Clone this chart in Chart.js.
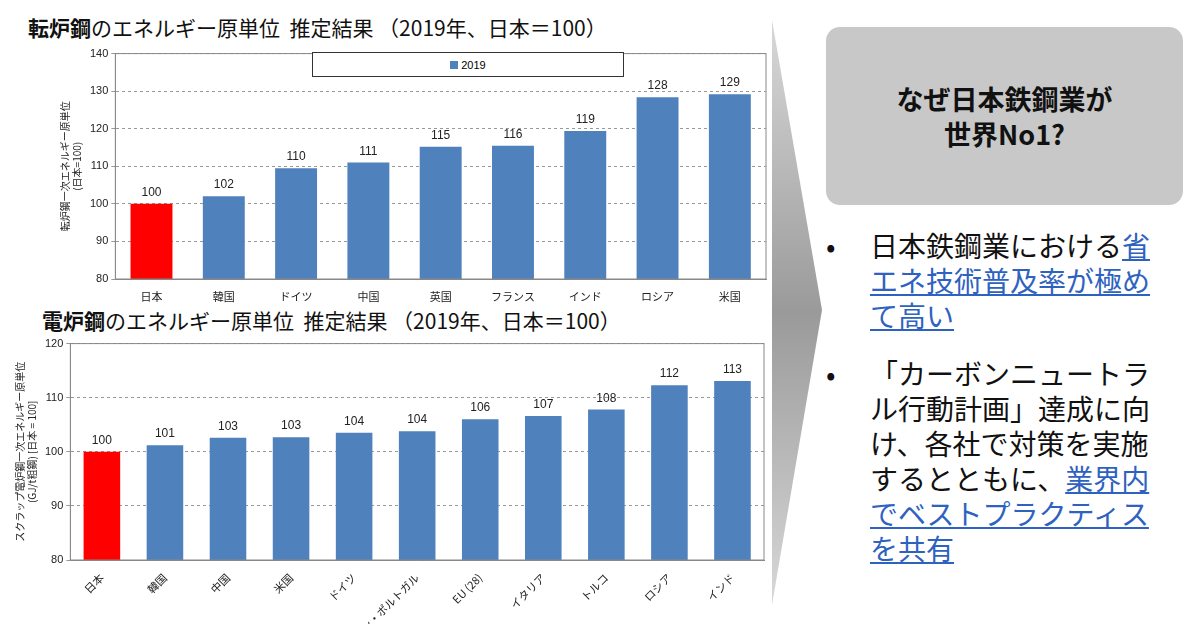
<!DOCTYPE html>
<html><head><meta charset="utf-8">
<script src="https://cdn.jsdelivr.net/npm/chart.js@4"></script>
<style>
body{margin:0;width:1200px;height:624px;background:#fff;font-family:"Noto Sans CJK JP","Noto Sans",sans-serif;position:relative;overflow:hidden}
.title{position:absolute;font-size:21px;color:#111;white-space:nowrap}
.title b{font-weight:700}
.wrap{position:absolute}
.legend{position:absolute;left:312px;top:52px;width:310px;height:23px;border:1px solid #333;background:#fff;font:11px "Liberation Sans";display:flex;align-items:center;justify-content:center}
.legend i{display:inline-block;width:8px;height:8px;background:#4f81bd;margin-right:3px}
.box{position:absolute;left:826px;top:27px;width:357px;height:178px;background:#c8c8c8;border-radius:14px;display:flex;align-items:center;justify-content:center;text-align:center;font-size:27px;font-weight:700;line-height:1.3;color:#111}
.bul{position:absolute;left:826px;width:340px;font-size:28px;line-height:35px;color:#111}
.bul span.d{position:absolute;left:0}
.bul div{margin-left:44px;width:300px}
.bul a{color:#2e62c0;text-decoration:underline}
</style></head><body>
<div class="title" style="left:28px;top:12px"><b>転炉鋼</b>のエネルギー原単位&nbsp; 推定結果 （2019年、日本＝100）</div>
<div class="title" style="left:42px;top:305px"><b>電炉鋼</b>のエネルギー原単位&nbsp; 推定結果 （2019年、日本＝100）</div>
<div class="wrap" style="left:10px;top:44px;width:762px;height:262px"><canvas id="c1"></canvas></div>
<div class="wrap" style="left:10px;top:334px;width:760px;height:290px"><canvas id="c2"></canvas></div>
<div class="legend"><i></i>2019</div>
<svg style="position:absolute;left:772px;top:20px" width="56" height="590">
<defs><linearGradient id="g" x1="0" y1="0" x2="0" y2="1"><stop offset="0" stop-color="#d8d8d8"/><stop offset="0.5" stop-color="#9a9a9a"/><stop offset="1" stop-color="#d8d8d8"/></linearGradient></defs>
<polygon points="0,0 50,290 0,585" fill="url(#g)"/></svg>
<div class="box">なぜ日本鉄鋼業が<br>世界No1?</div>
<div class="bul" style="top:228px"><span class="d">•</span><div>日本鉄鋼業における<a>省エネ技術普及率が極めて高い</a></div></div>
<div class="bul" style="top:356px"><span class="d">•</span><div>「カーボンニュートラル行動計画」達成に向け、各社で対策を実施するとともに、<a>業界内でベストプラクティスを共有</a></div></div>
<script>
const topCategories = ["日本","韓国","ドイツ","中国","英国","フランス","インド","ロシア","米国"];
const topValues = [100,102,109.5,111,115.2,115.5,119.4,128.4,129.2];
const bottomCategories = ["日本","韓国","中国","米国","ドイツ","スペイン・ポルトガル","EU (28)","イタリア","トルコ","ロシア","インド"];
const bottomValues = [100,101.2,102.6,102.7,103.5,103.8,106,106.6,107.8,112.3,113.1];

const valueLabels = {
  id: "valueLabels",
  afterDatasetsDraw(chart) {
    const ctx = chart.ctx;
    const meta = chart.getDatasetMeta(0);
    ctx.save();
    ctx.font = "12px 'Liberation Sans'";
    ctx.fillStyle = "#222";
    ctx.textAlign = "center";
    meta.data.forEach((bar, i) => {
      ctx.fillText(Math.round(chart.data.datasets[0].data[i]), bar.x, bar.y - 8);
    });
    ctx.restore();
  }
};
const frame = {
  id: "frame",
  afterDraw(chart) {
    const a = chart.chartArea, ctx = chart.ctx;
    ctx.save(); ctx.strokeStyle = "#888"; ctx.lineWidth = 1;
    ctx.strokeRect(a.left, a.top, a.right - a.left, a.bottom - a.top);
    ctx.restore();
  }
};

function makeChart(id, labels, data, min, max, yTitle, rotate, leftPad, xHeight) {
  new Chart(document.getElementById(id), {
    type: "bar",
    data: { labels, datasets: [{ data, backgroundColor: data.map((v, i) => i === 0 ? "#ff0000" : "#4f81bd"), barPercentage: 0.58, categoryPercentage: 1 }] },
    options: {
      responsive: true, maintainAspectRatio: false, animation: false,
      layout: { padding: { top: 6, right: 6, left: leftPad } },
      plugins: { legend: { display: false }, tooltip: { enabled: false } },
      scales: {
        x: { grid: { display: false }, border: { color: "#888" },
             afterFit(s) { s.height = xHeight; },
             ticks: { color: "#222", font: { size: 11, family: "Noto Sans CJK JP" }, maxRotation: rotate, minRotation: rotate, autoSkip: false } },
        y: { min, max, ticks: { stepSize: 10, color: "#222", font: { size: 11, family: "Liberation Sans" } },
             border: { color: "#999", dash: [3, 3] },
             grid: { color: "#999", tickLength: 4 },
             title: { display: true, text: yTitle, color: "#222", font: { size: 10, family: "Noto Sans CJK JP" } } }
      }
    },
    plugins: [valueLabels, frame]
  });
}
makeChart("c1", topCategories, topValues, 80, 140, ["転炉鋼一次エネルギー原単位", "(日本=100)"], 0, 45, 27);
makeChart("c2", bottomCategories, bottomValues, 80, 120, ["スクラップ電炉鋼一次エネルギー原単位", "(GJ/t粗鋼) [日本 = 100]"], 45, 0, 64);
</script>
</body></html>
